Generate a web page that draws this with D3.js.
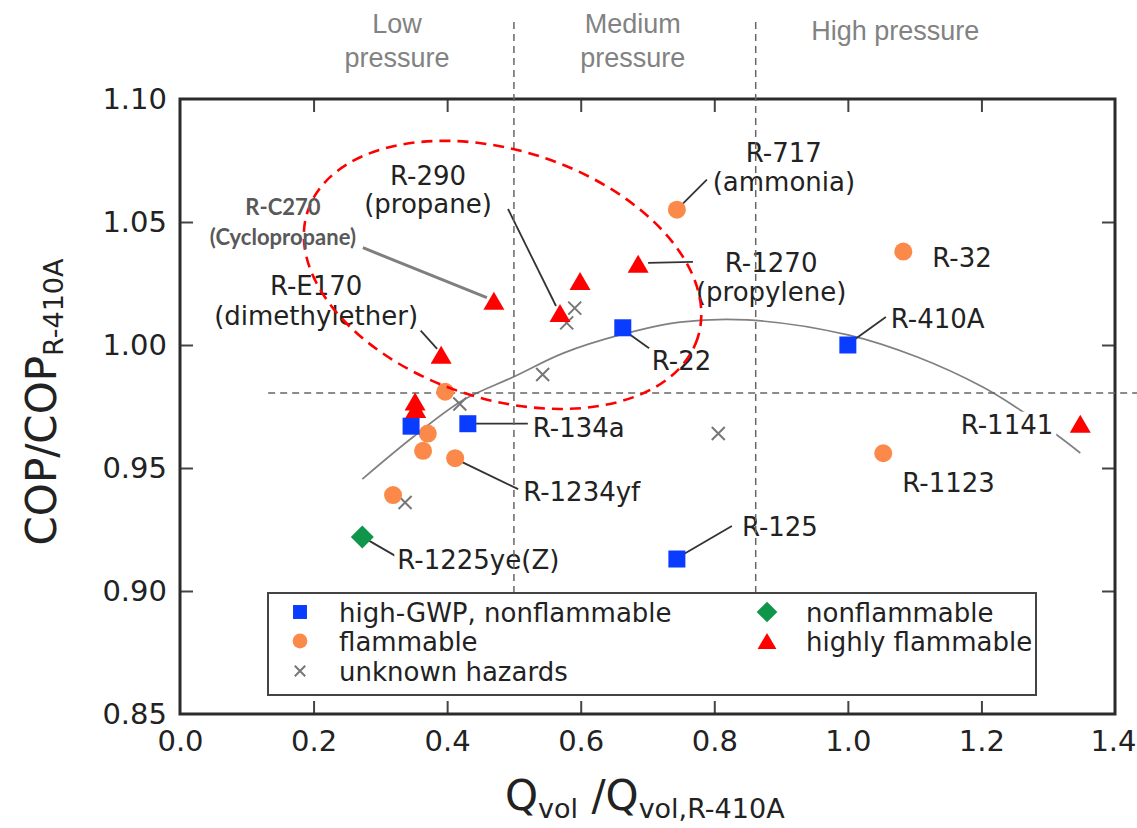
<!DOCTYPE html>
<html>
<head>
<meta charset="utf-8">
<script src="https://cdn.jsdelivr.net/npm/d3@7"></script>
<style>
  html, body { margin: 0; background: #fff; }
  svg { display: block; }
</style>
</head>
<body>
<svg id="chart" width="1137" height="828"></svg>
<script>
// Cycle efficiency and volumetric capacity of candidate refrigerants, both relative to R-410A.
const highGwp = [
  { name: "R-410A", q: 1.000, cop: 1.000 },
  { name: "R-22",   q: 0.663, cop: 1.007 },
  { name: "R-134a", q: 0.431, cop: 0.968 },
  { name: null,     q: 0.346, cop: 0.967 },
  { name: "R-125",  q: 0.744, cop: 0.913 }
];
const flammable = [
  { name: "R-717",    q: 0.744, cop: 1.055 },
  { name: "R-32",     q: 1.083, cop: 1.038 },
  { name: "R-1123",   q: 1.053, cop: 0.956 },
  { name: "R-1234yf", q: 0.412, cop: 0.954 },
  { name: null,       q: 0.397, cop: 0.981 },
  { name: null,       q: 0.371, cop: 0.964 },
  { name: null,       q: 0.364, cop: 0.957 },
  { name: null,       q: 0.319, cop: 0.939 }
];
const unknownHazards = [
  { q: 0.591, cop: 1.015 },
  { q: 0.579, cop: 1.009 },
  { q: 0.543, cop: 0.988 },
  { q: 0.419, cop: 0.976 },
  { q: 0.337, cop: 0.936 },
  { q: 0.806, cop: 0.964 }
];
const nonflammable = [
  { name: "R-1225ye(Z)", q: 0.273, cop: 0.922 }
];
const highlyFlammable = [
  { name: "R-C270", q: 0.470, cop: 1.018 },
  { name: "R-290",  q: 0.569, cop: 1.013 },
  { name: "R-E170", q: 0.391, cop: 0.996 },
  { name: "R-1270", q: 0.686, cop: 1.033 },
  { name: "R-1141", q: 1.348, cop: 0.968 },
  { name: null,     q: 0.599, cop: 1.026 },
  { name: null,     q: 0.352, cop: 0.977 },
  { name: null,     q: 0.353, cop: 0.974 }
];

// Trend of the best achievable COP against capacity
const trendQ   = [0.273, 0.349, 0.424, 0.499, 0.574, 0.659, 0.749, 0.849, 1.000, 1.104, 1.202, 1.258, 1.313, 1.348];
const trendCop = [0.9455, 0.9626, 0.9776, 0.9870, 0.9967, 1.0041, 1.0093, 1.0102, 1.0041, 0.9951, 0.9829, 0.9736, 0.9634, 0.9561];

const xTicks = [0.0, 0.2, 0.4, 0.6, 0.8, 1.0, 1.2, 1.4];
const yTicks = [0.85, 0.90, 0.95, 1.00, 1.05, 1.10];

// Pressure classes and the COP threshold
const pressureBounds = [0.500, 0.862];
const copThreshold = 0.9805;
const pressureZones = [
  { lines: ["Low", "pressure"],    q: 0.325 },
  { lines: ["Medium", "pressure"], q: 0.678 },
  { lines: ["High pressure"],      q: 1.071 }
];

// Highlighted group of hydrocarbons / ethers (centre in data units, semi-axes in Q units)
const focusGroup = { q: 0.483, cop: 1.0285, major: 0.307, minor: 0.186, angle: 18 };

const legendItems = [
  { label: "high-GWP, nonflammable", kind: "square" },
  { label: "flammable",              kind: "circle" },
  { label: "unknown hazards",        kind: "x" },
  { label: "nonflammable",           kind: "diamond" },
  { label: "highly flammable",       kind: "triangle" }
];

// Callout placement, in pixels relative to the marker
const callouts = [
  { name: "R-C270", lines: ["R-C270", "(Cyclopropane)"], dx: -211, dy: [-86, -56], anchor: "middle", leader: [-131, -53, -7, -3], note: true },
  { name: "R-290", lines: ["R-290", "(propane)"], dx: -132, dy: [-128, -100], anchor: "middle", leader: [-52, -104, -4, -7] },
  { name: "R-717", lines: ["R-717", "(ammonia)"], dx: 107, dy: [-48, -19], anchor: "middle", leader: [30, -30, 5, -5] },
  { name: "R-1270", lines: ["R-1270", "(propylene)"], dx: 133, dy: [8, 37], anchor: "middle", leader: [10, -1, 55, -2] },
  { name: "R-32", lines: ["R-32"], dx: 29, dy: [15], anchor: "start" },
  { name: "R-E170", lines: ["R-E170", "(dimethylether)"], dx: -125, dy: [-60, -30], anchor: "middle", leader: [-22, -26, -4, -6] },
  { name: "R-22", lines: ["R-22"], dx: 29, dy: [42], anchor: "start", leader: [6, 6, 27, 21] },
  { name: "R-134a", lines: ["R-134a"], dx: 65, dy: [13], anchor: "start", leader: [8, 0, 60, 0] },
  { name: "R-1234yf", lines: ["R-1234yf"], dx: 68, dy: [43], anchor: "start", leader: [7, 4, 63, 31] },
  { name: "R-1225ye(Z)", lines: ["R-1225ye(Z)"], dx: 35, dy: [32], anchor: "start", leader: [7, 4, 33, 19] },
  { name: "R-125", lines: ["R-125"], dx: 65, dy: [-23], anchor: "start", leader: [7, -5, 55, -33] },
  { name: "R-410A", lines: ["R-410A"], dx: 43, dy: [-17], anchor: "start", leader: [6, -5, 38, -28] },
  { name: "R-1141", lines: ["R-1141"], dx: -27, dy: [10], anchor: "end" },
  { name: "R-1123", lines: ["R-1123"], dx: 19, dy: [39], anchor: "start" }
];

const FONT = "'DejaVu Sans', Verdana, sans-serif";
const colors = { square: "#0a3cff", circle: "#fb8a4a", x: "#777777", diamond: "#10964a", triangle: "#ff0000" };

const svg = d3.select("#chart");
const margin = { left: 180, right: 22, top: 99, bottom: 114 };
const W = +svg.attr("width"), H = +svg.attr("height");
const x = d3.scaleLinear().domain([0, 1.4]).range([margin.left, W - margin.right]);
const y = d3.scaleLinear().domain([0.85, 1.10]).range([H - margin.bottom, margin.top]);

// ---- axes with inward ticks on all four sides
function styleAxis(g) {
  g.select(".domain").remove();
  g.selectAll(".tick line").attr("stroke", "#444").attr("stroke-width", 2);
  g.selectAll(".tick text").attr("font-family", FONT).attr("font-size", 29).attr("fill", "#222");
}
svg.append("g").attr("transform", `translate(0,${y(0.85)})`)
  .call(d3.axisBottom(x).tickValues(xTicks).tickFormat(d3.format(".1f")).tickSizeInner(-13).tickSizeOuter(0).tickPadding(16))
  .call(styleAxis)
  .call(g => g.selectAll(".tick line").filter(d => d === 0 || d === 1.4).remove())
  // keep the last label inside the page edge
  .call(g => g.selectAll(".tick text").filter(d => d === 1.4).attr("text-anchor", "end").attr("x", W - 1 - x(1.4)));
svg.append("g").attr("transform", `translate(${x(0)},0)`)
  .call(d3.axisLeft(y).tickValues(yTicks).tickFormat(d3.format(".2f")).tickSizeInner(-13).tickSizeOuter(0).tickPadding(13))
  .call(styleAxis)
  .call(g => g.selectAll(".tick line").filter(d => d === 0.85 || d === 1.10).remove());
svg.append("g").attr("transform", `translate(0,${y(1.10)})`)
  .call(d3.axisTop(x).tickValues(xTicks.slice(1, -1)).tickFormat("").tickSizeInner(-13).tickSizeOuter(0))
  .call(styleAxis);
svg.append("g").attr("transform", `translate(${x(1.4)},0)`)
  .call(d3.axisRight(y).tickValues(yTicks.slice(1, -1)).tickFormat("").tickSizeInner(-13).tickSizeOuter(0))
  .call(styleAxis);

svg.append("rect")
  .attr("x", x(0)).attr("y", y(1.10))
  .attr("width", x(1.4) - x(0)).attr("height", y(0.85) - y(1.10))
  .attr("fill", "none").attr("stroke", "#2b2b2b").attr("stroke-width", 3);

// ---- axis titles
const yTitle = svg.append("text")
  .attr("transform", `translate(56,402) rotate(-90)`)
  .attr("text-anchor", "middle").attr("font-family", FONT).attr("fill", "#222");
yTitle.append("tspan").attr("font-size", 42).text("COP/COP");
yTitle.append("tspan").attr("font-size", 27).attr("dy", 7).text("R-410A");

const xTitle = svg.append("text")
  .attr("x", 505).attr("y", 810)
  .attr("font-family", FONT).attr("fill", "#222").style("white-space", "pre");
xTitle.append("tspan").attr("font-size", 42).text("Q");
xTitle.append("tspan").attr("font-size", 27).attr("dy", 8).text("vol");
xTitle.append("tspan").attr("font-size", 42).attr("dy", -8).text(" /Q");
xTitle.append("tspan").attr("font-size", 27).attr("dy", 8).text("vol,R-410A");

// ---- trend curve
const trend = trendQ.map((q, i) => [q, trendCop[i]]);
svg.append("path")
  .datum(trend)
  .attr("fill", "none").attr("stroke", "#808080").attr("stroke-width", 1.7)
  .attr("d", d3.line().x(d => x(d[0])).y(d => y(d[1])).curve(d3.curveCatmullRom));

// ---- callouts for named refrigerants
const allPoints = [].concat(highGwp, flammable, nonflammable, highlyFlammable);
const byName = new Map(allPoints.filter(d => d.name).map(d => [d.name, d]));
const calloutLayer = svg.append("g");
callouts.filter(c => !c.note).forEach(c => {
  const p = byName.get(c.name);
  const px = x(p.q), py = y(p.cop);
  if (c.leader) {
    calloutLayer.append("line")
      .attr("x1", px + c.leader[0]).attr("y1", py + c.leader[1])
      .attr("x2", px + c.leader[2]).attr("y2", py + c.leader[3])
      .attr("stroke", "#333").attr("stroke-width", 1.8);
  }
});
callouts.filter(c => !c.note).forEach(c => {
  const p = byName.get(c.name);
  const px = x(p.q), py = y(p.cop);
  const g = calloutLayer.append("g");
  const t = g.append("text")
    .attr("text-anchor", c.anchor).attr("font-family", FONT)
    .attr("font-size", 26).attr("fill", "#222");
  c.lines.forEach((line, i) => {
    t.append("tspan").attr("x", px + c.dx).attr("y", py + c.dy[i]).text(line);
  });
  const bb = t.node().getBBox();
  g.insert("rect", "text")
    .attr("x", bb.x - 3).attr("y", bb.y + 2)
    .attr("width", bb.width + 6).attr("height", bb.height - 2)
    .attr("fill", "#fff");
});

// ---- pressure class boundaries and COP threshold
const guide = svg.append("g").attr("stroke", "#666").attr("stroke-width", 1.5).attr("stroke-dasharray", "7 5");
pressureBounds.forEach(b => {
  guide.append("line").attr("x1", x(b)).attr("x2", x(b)).attr("y1", 22).attr("y2", 593);
});
guide.append("line").attr("x1", x(0.132)).attr("x2", W).attr("y1", y(copThreshold)).attr("y2", y(copThreshold));

// ---- markers
function marker(g, kind, cx, cy, s) {
  s = s || 1;
  if (kind === "square") {
    const a = 17 * s;
    g.append("rect").attr("x", cx - a / 2).attr("y", cy - a / 2).attr("width", a).attr("height", a).attr("fill", colors.square);
  } else if (kind === "circle") {
    g.append("circle").attr("cx", cx).attr("cy", cy).attr("r", 9 * s).attr("fill", colors.circle);
  } else if (kind === "x") {
    const h = 6.5 * s;
    g.append("path")
      .attr("d", `M${cx - h},${cy - h}L${cx + h},${cy + h}M${cx - h},${cy + h}L${cx + h},${cy - h}`)
      .attr("stroke", colors.x).attr("stroke-width", 2).attr("fill", "none");
  } else if (kind === "diamond") {
    const h = 11.5 * s;
    g.append("path").attr("d", `M${cx},${cy - h}L${cx + h},${cy}L${cx},${cy + h}L${cx - h},${cy}Z`).attr("fill", colors.diamond);
  } else if (kind === "triangle") {
    const w = 10.5 * s, h = 9 * s;
    g.append("path").attr("d", `M${cx},${cy - h}L${cx + w},${cy + h}L${cx - w},${cy + h}Z`).attr("fill", colors.triangle);
  }
}
const markLayer = svg.append("g");
[[unknownHazards, "x"], [flammable, "circle"], [highGwp, "square"], [nonflammable, "diamond"], [highlyFlammable, "triangle"]]
  .forEach(([series, kind]) => series.forEach(d => marker(markLayer, kind, x(d.q), y(d.cop))));

// ---- legend
const lg = svg.append("g");
lg.append("rect").attr("x", 268).attr("y", 593).attr("width", 768).attr("height", 102)
  .attr("fill", "#fff").attr("stroke", "#444").attr("stroke-width", 2);
const legendPos = [[300, 612], [300, 641], [300, 671], [767, 612], [767, 641]];
legendItems.forEach((item, i) => {
  const [lx, ly] = legendPos[i];
  marker(lg, item.kind, lx, ly, item.kind === "x" ? 0.8 : (item.kind === "diamond" || item.kind === "triangle" ? 0.9 : 0.82));
  lg.append("text").attr("x", lx + 39).attr("y", ly + 9.5)
    .attr("font-family", FONT).attr("font-size", 26).attr("fill", "#222").text(item.label);
});

// ---- highlighted group
const ex = x(focusGroup.q), ey = y(focusGroup.cop);
svg.append("ellipse")
  .attr("cx", 0).attr("cy", 0)
  .attr("rx", x(focusGroup.major) - x(0)).attr("ry", x(focusGroup.minor) - x(0))
  .attr("transform", `translate(${ex},${ey}) rotate(${focusGroup.angle})`)
  .attr("fill", "none").attr("stroke", "#ff0000").attr("stroke-width", 2.6).attr("stroke-dasharray", "11 7");

// ---- pressure zone headings
pressureZones.forEach(z => {
  const t = svg.append("text").attr("text-anchor", "middle")
    .attr("font-family", "'Liberation Sans', Arial, sans-serif").attr("font-size", 27).attr("fill", "#828282");
  if (z.lines.length === 2) {
    t.append("tspan").attr("x", x(z.q)).attr("y", 33).text(z.lines[0]);
    t.append("tspan").attr("x", x(z.q)).attr("y", 67).text(z.lines[1]);
  } else {
    t.append("tspan").attr("x", x(z.q)).attr("y", 40).text(z.lines[0]);
  }
});

// ---- cyclopropane note
callouts.filter(c => c.note).forEach(c => {
  const p = byName.get(c.name);
  const px = x(p.q), py = y(p.cop);
  svg.append("line")
    .attr("x1", px + c.leader[0]).attr("y1", py + c.leader[1])
    .attr("x2", px + c.leader[2]).attr("y2", py + c.leader[3])
    .attr("stroke", "#7f7f7f").attr("stroke-width", 3);
  const t = svg.append("text").attr("text-anchor", c.anchor)
    .attr("font-family", "Lato, 'Open Sans', sans-serif").attr("font-weight", 700)
    .attr("font-size", 22).attr("fill", "#595959");
  c.lines.forEach((line, i) => {
    t.append("tspan").attr("x", px + c.dx).attr("y", py + c.dy[i]).text(line);
  });
});
</script>
</body>
</html>
